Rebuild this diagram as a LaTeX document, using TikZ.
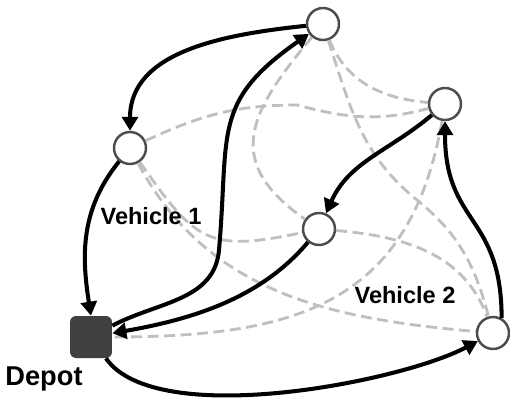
\documentclass[tikz,border=0pt]{standalone}
\usepackage{fontspec}
\setmainfont{Liberation Sans}
\usetikzlibrary{arrows.meta}

\tikzset{
  cust/.style={circle, draw=black!70, fill=white, line width=1.4pt,
    minimum size=0.64cm, inner sep=0pt},
  depotbox/.style={rectangle, rounded corners=1.2mm, fill=black!75,
    minimum size=0.84cm, inner sep=0pt},
  route/.style={line width=2.3pt, -{Triangle[length=2.8mm,width=3.2mm]}},
  link/.style={black!25, line width=1.6pt, dash pattern=on 2.2mm off 1.1mm},
  lbl/.style={font=\bfseries\fontsize{13.4}{16}\selectfont, inner sep=0pt},
}

\begin{document}
\begin{tikzpicture}[x=0.02cm, y=0.02cm]
  \useasboundingbox (0,0) rectangle (510,400);
  \node[depotbox] (dep) at (91,63) {};
  \node[cust] (c1) at (130,252) {};
  \node[cust] (c2) at (323,376) {};
  \node[cust] (c3) at (445,296) {};
  \node[cust] (c4) at (319,171) {};
  \node[cust] (c5) at (493,67) {};
  \coordinate (b1) at (219,150);
  \coordinate (bc) at (297,295);
  \coordinate (ae) at (417,200);

  % possible links
  \draw [link] (c1) to[out=25,in=180] (bc) to[out=-15,in=195] (c3);
  \draw [link] (c2) to[out=-68,in=175] (c3);
  \draw [link] (c2) to[out=-72,in=141] (ae) to[out=-39,in=105] (c5);
  \draw [link] (c2) to[out=230,in=145,looseness=1.4] (c4);
  \draw [link] (c3) to[out=-100,in=0,looseness=1.2] (dep);
  \draw [link] (c1) to[out=-55,in=192,looseness=1.4] (c4);
  \draw [link] (c1) to[out=-62,in=175] (c5);
  \draw [link] (c4) to[out=-5,in=110] (c5);

  % vehicle 1
  \draw [route] (dep) to[out=28,in=-95] (b1) to[out=85,in=215,looseness=1.3] (c2);
  \draw [route] (c2) to[out=186,in=90] (c1);
  \draw [route] (c1) to[out=231,in=99] (dep.north);
  % vehicle 2
  \draw [route] (dep) to[out=-55,in=208,looseness=0.6] (c5);
  \draw [route] (c5.60) to[out=90,in=-90,looseness=1.3] (c3);
  \draw [route] (c3) to[out=220,in=66] (c4);
  \draw [route] (c4) to[out=230,in=10,looseness=0.9] (dep);

  \node[lbl] (veh1) at (151,184) {Vehicle 1};
  \node[lbl] (veh2) at (405,105) {Vehicle 2};
  \node[lbl, font=\bfseries\fontsize{15.5}{18}\selectfont] (deplbl) at (44,21) {Depot};
\end{tikzpicture}
\end{document}
